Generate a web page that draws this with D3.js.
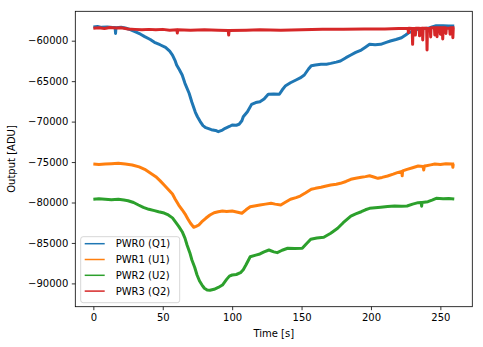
<!DOCTYPE html>
<html>
<head>
<meta charset="utf-8">
<script src="https://cdn.jsdelivr.net/npm/d3@7"></script>
<style>
  body { margin: 0; background: #fff; }
  svg { display: block; font-family: "DejaVu Sans", sans-serif; }
</style>
</head>
<body>
<div id="chart"></div>
<script>
// Series data: time [s] and output [ADU]
const pwr0Time = [0, 3, 6, 10, 14, 15.7, 16, 16.3, 20, 23, 27, 30, 34, 37, 41, 44, 48, 52, 55, 57, 59, 60, 62, 64, 66, 69, 71, 73.5, 75, 77, 79, 81, 85, 88, 90, 93, 95, 98, 100, 103, 105, 107, 108, 111, 114, 117, 120, 123, 126, 130, 134, 136, 138.5, 142, 146, 149, 152, 155, 157, 160, 164, 168, 171, 175, 178, 182, 185.5, 189, 193, 196, 199, 203, 207, 211, 214, 218, 222, 225, 227, 230, 234, 238, 241, 244, 247, 252, 256, 260];
const pwr0Vals = [-58300, -58250, -58350, -58300, -58380, -58380, -59100, -58400, -58350, -58430, -58650, -58890, -59200, -59500, -59850, -60200, -60500, -60820, -61300, -61770, -62500, -63000, -63600, -64240, -65270, -66500, -67600, -68850, -69400, -70000, -70500, -70750, -71000, -71100, -71250, -71050, -70830, -70600, -70420, -70450, -70330, -69900, -69400, -68780, -67870, -67650, -67540, -67200, -66620, -66600, -66620, -66100, -65560, -65200, -64860, -64600, -64240, -63500, -63090, -63000, -62920, -62900, -62800, -62650, -62510, -62100, -61770, -61450, -61150, -60800, -60450, -60500, -60450, -60200, -60040, -59850, -59630, -59300, -59050, -58800, -58550, -58500, -58470, -58300, -58150, -58150, -58170, -58180];

const pwr1Time = [0, 4, 8.5, 13, 18, 23, 28, 33, 37, 41, 45, 48, 51, 54, 57, 59, 61.5, 64, 66.5, 68, 70, 72.3, 74, 76, 78, 81, 84, 87, 90, 93, 96, 100, 104, 107, 110, 113, 117, 120, 124, 128, 131, 135, 138, 142, 146, 149, 153, 157, 160, 164, 167, 171, 175, 178, 182, 185.5, 189, 193, 196, 199, 202, 205, 208, 212, 216, 219, 222.2, 222.5, 222.8, 226, 230, 234, 237.5, 238, 238.5, 240, 243, 246, 250, 254, 258.7, 259, 259.3, 260];
const pwr1Vals = [-75240, -75300, -75240, -75200, -75150, -75250, -75360, -75600, -75900, -76350, -76810, -77300, -77840, -78400, -78950, -79600, -80310, -80900, -81540, -82000, -82570, -83060, -82950, -82780, -82400, -81950, -81550, -81260, -81150, -81050, -81100, -81050, -81200, -81330, -80900, -80520, -80400, -80310, -80200, -80100, -80200, -80310, -80000, -79600, -79400, -79200, -78800, -78370, -78250, -78120, -78000, -77840, -77750, -77630, -77400, -77130, -77000, -76880, -76800, -76690, -76850, -77010, -76900, -76720, -76500, -76310, -76150, -76700, -76100, -75900, -75700, -75490, -75550, -75980, -75500, -75450, -75350, -75240, -75300, -75200, -75250, -75650, -75250, -75240];

const pwr2Time = [0, 4, 8.5, 13, 18, 22, 25, 29, 32.5, 36, 40, 44, 47, 51, 54, 57, 59, 61.5, 64, 66, 67.5, 69.5, 71, 73, 74.7, 76.5, 78.3, 80, 82, 84, 87, 90, 93, 96, 98, 100, 103, 106, 108, 110, 113, 117, 120, 123, 126.5, 130, 132.5, 136, 140, 145, 150.5, 153, 156.6, 161, 166, 171, 176, 180, 185.5, 189, 193, 196, 199, 203, 207, 212, 217, 222, 226, 230, 234, 236.2, 236.5, 236.8, 241, 244, 247, 252, 256, 260];
const pwr2Vals = [-79600, -79550, -79600, -79650, -79600, -79700, -79780, -80000, -80310, -80600, -80840, -81000, -81140, -81300, -81540, -81900, -82370, -82950, -83610, -84400, -85250, -86200, -87110, -88000, -88960, -89700, -90200, -90600, -90810, -90850, -90730, -90500, -90200, -89500, -89100, -88960, -88900, -88680, -88300, -87700, -86700, -86500, -86360, -86100, -85870, -86100, -86200, -85900, -85660, -85700, -85660, -85200, -84550, -84400, -84300, -83800, -83190, -82500, -81670, -81400, -81140, -80900, -80720, -80650, -80590, -80500, -80430, -80450, -80430, -80200, -80020, -80000, -80450, -80000, -79900, -79700, -79480, -79550, -79500, -79570];

const pwr3Time = [0, 4, 8, 12, 16, 20, 25, 30, 35, 40, 45, 50, 55, 60.2, 60.5, 60.8, 70, 80, 90, 97.2, 97.5, 97.8, 110, 120, 135, 150, 165, 180, 195, 210, 220, 226.7, 227, 227.3, 229.7, 230, 230.3, 231.7, 232, 232.3, 234.7, 235, 235.3, 237, 237.3, 237.6, 240.1, 240.4, 240.7, 242.7, 243, 243.3, 245.7, 246, 246.3, 247.3, 247.6, 247.9, 249.7, 250, 250.3, 251.4, 251.7, 252, 253.7, 254, 254.3, 256.7, 257, 257.3, 258.7, 259, 259.3, 260];
const pwr3Vals = [-58450, -58400, -58500, -58380, -58420, -58400, -58550, -58600, -58650, -58600, -58650, -58600, -58700, -58650, -59050, -58650, -58700, -58650, -58700, -58750, -59300, -58750, -58700, -58650, -58700, -58650, -58600, -58600, -58550, -58550, -58500, -58500, -59000, -58450, -58500, -60450, -58500, -58500, -59300, -58450, -58450, -59400, -58500, -58450, -59900, -58450, -58450, -61150, -58500, -58450, -59540, -58400, -58400, -59300, -58400, -58400, -59500, -58400, -58400, -59200, -58400, -58400, -59790, -58400, -58400, -59100, -58450, -58450, -59200, -58400, -58400, -59630, -58400, -58450];

const seriesNames = ['PWR0 (Q1)', 'PWR1 (U1)', 'PWR2 (U2)', 'PWR3 (Q2)'];
const seriesColors = ['#1f77b4', '#ff7f0e', '#2ca02c', '#d62728'];
const xTicks = [0, 50, 100, 150, 200, 250];
const yTicks = [-60000, -65000, -70000, -75000, -80000, -85000, -90000];

const series = [
  { name: seriesNames[0], t: pwr0Time, v: pwr0Vals },
  { name: seriesNames[1], t: pwr1Time, v: pwr1Vals },
  { name: seriesNames[2], t: pwr2Time, v: pwr2Vals },
  { name: seriesNames[3], t: pwr3Time, v: pwr3Vals }
];

// Chart dimensions
const W = 483, H = 347;
const margin = { top: 11.3, right: 10.7, bottom: 40.3, left: 75.3 };
const width = W - margin.left - margin.right;
const height = H - margin.top - margin.bottom;

const svg = d3.select('#chart')
  .append('svg')
  .attr('width', W)
  .attr('height', H);

const g = svg.append('g')
  .attr('transform', 'translate(' + margin.left + ',' + margin.top + ')');

// Scales (matplotlib-style 5% margins)
const xScale = d3.scaleLinear().domain([-13, 273]).range([0, width]);
const yScale = d3.scaleLinear().domain([-92880, -56366]).range([height, 0]);

const fmt = d => d3.format('d')(d).replace('-', '\u2212');

// Axes
const xAxis = d3.axisBottom(xScale).tickValues(xTicks).tickSize(3.5).tickPadding(3.5).tickFormat(d3.format('d'));
const yAxis = d3.axisLeft(yScale).tickValues(yTicks).tickSize(3.5).tickPadding(3.5).tickFormat(fmt);

const gx = g.append('g')
  .attr('transform', 'translate(0,' + height + ')')
  .call(xAxis);
const gy = g.append('g').call(yAxis);

[gx, gy].forEach(a => {
  a.select('.domain').remove();
  a.selectAll('line').attr('stroke', '#000').attr('stroke-width', 0.8);
  a.selectAll('text').attr('fill', '#000').style('font-size', '10px').style('font-family', '"DejaVu Sans", sans-serif');
});

// Lines
const line = d3.line()
  .x(d => xScale(d[0]))
  .y(d => yScale(d[1]));

g.append('g')
  .selectAll('path')
  .data(series)
  .enter()
  .append('path')
  .attr('d', s => line(s.t.map((t, i) => [t, s.v[i]])))
  .attr('fill', 'none')
  .attr('stroke', (s, i) => seriesColors[i])
  .attr('stroke-width', 3)
  .attr('stroke-linejoin', 'round');

// Frame
g.append('rect')
  .attr('width', width)
  .attr('height', height)
  .attr('fill', 'none')
  .attr('stroke', '#000')
  .attr('stroke-width', 0.8);

// Axis labels
svg.append('text')
  .attr('x', margin.left + xScale(130))
  .attr('y', 337)
  .attr('text-anchor', 'middle')
  .style('font-size', '10px')
  .text('Time [s]');

svg.append('text')
  .attr('transform', 'translate(15,' + (margin.top + height / 2) + ') rotate(-90)')
  .attr('text-anchor', 'middle')
  .style('font-size', '10px')
  .text('Output [ADU]');

// Legend
const legend = svg.append('g')
  .attr('transform', 'translate(80.7,236.7)');

legend.append('rect')
  .attr('width', 99)
  .attr('height', 66)
  .attr('rx', 2.5)
  .attr('fill', '#fff')
  .attr('fill-opacity', 0.8)
  .attr('stroke', '#ccc')
  .attr('stroke-width', 0.8);

const item = legend.selectAll('.item')
  .data(seriesNames)
  .enter()
  .append('g')
  .attr('transform', (d, i) => 'translate(0,' + (7 + i * 15.8) + ')');

item.append('line')
  .attr('x1', 4)
  .attr('x2', 24)
  .attr('stroke', (d, i) => seriesColors[i])
  .attr('stroke-width', 1.5);

item.append('text')
  .attr('x', 35)
  .attr('dy', '0.35em')
  .style('font-size', '10px')
  .text(d => d);
</script>
</body>
</html>
